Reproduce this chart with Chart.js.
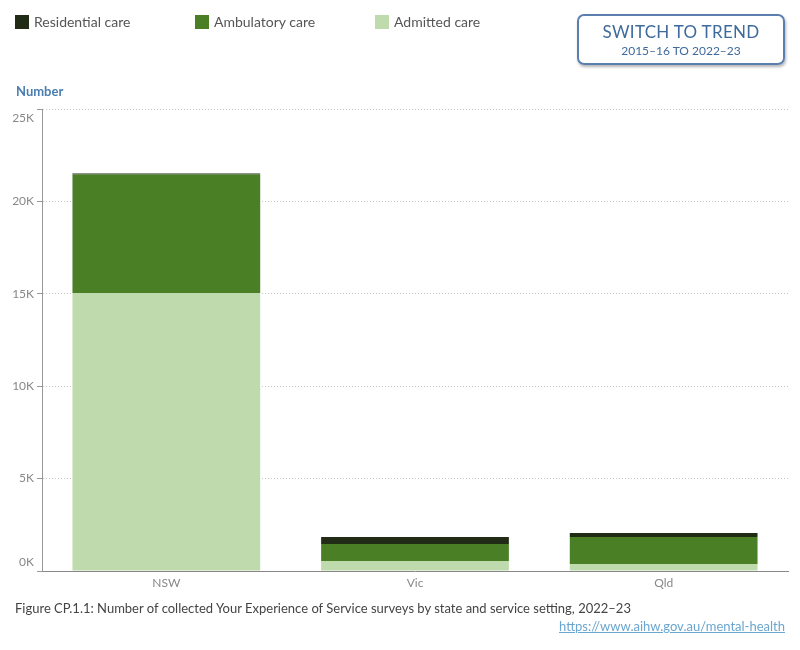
<html>
<head>
 <meta charset="utf-8" />
 <title>Your Experience of Service surveys</title>
 <script src="https://cdn.jsdelivr.net/npm/chart.js@4.4.1/dist/chart.umd.min.js"></script>
 <style>
  body { margin: 0; background: #fff; font-family: Lato, "Open Sans", sans-serif; }
  #wrap { position: relative; width: 800px; height: 650px; overflow: hidden; }
  #myChart { position: absolute; left: 0; top: 0; }
  .legend { position: absolute; top: 13px; font-size: 14px; color: #555; }
  .legend span.sw { display: inline-block; width: 14px; height: 14px; vertical-align: -2px; margin-right: 5px; }
  #btn { position: absolute; left: 577px; top: 14px; width: 204px; height: 47px; border: 2px solid #5a7fae;
         border-radius: 7px; box-shadow: 1px 2px 3px rgba(0,0,0,0.3); text-align: center; color: #3e6a9c; }
  #btn .t1 { font-size: 17px; margin-top: 5px; letter-spacing: 0.3px; }
  #btn .t2 { font-size: 12px; margin-top: 1px; }
  #ytitle { position: absolute; left: 16px; top: 83px; font-size: 13px; font-weight: bold; color: #4a7eb0; }
  #caption { position: absolute; left: 15px; top: 600px; font-size: 13px; color: #444; }
  #link { position: absolute; right: 15px; top: 618px; font-size: 13px; color: #6aa6cf; text-decoration: underline; }
 </style>
</head>
<body>
<div id="wrap">
 <canvas id="myChart" width="800" height="650"></canvas>
 <div id="legend"></div>
 <div id="btn"><div class="t1">SWITCH TO TREND</div><div class="t2">2015–16 TO 2022–23</div></div>
 <div id="ytitle">Number</div>
 <div id="caption">Figure CP.1.1: Number of collected Your Experience of Service surveys by state and service setting, 2022–23</div>
 <div id="link">https://www.aihw.gov.au/mental-health</div>
</div>

<script>
 // data
 var states = ["NSW", "Vic", "Qld"];
 var admitted = [15050, 540, 380];
 var ambulatory = [6400, 920, 1460];
 var residential = [60, 380, 215];
 var yTicks = [0, 5000, 10000, 15000, 20000, 25000];

 var colors = {
  "Residential care": "#212b15",
  "Ambulatory care": "#4b7f25",
  "Admitted care": "#bfdbad"
 };

 // legend
 var legendItems = [["Residential care", 15], ["Ambulatory care", 195], ["Admitted care", 375]];
 var legend = document.getElementById("legend");
 legendItems.forEach(function (it) {
  var d = document.createElement("div");
  d.className = "legend";
  d.style.left = it[1] + "px";
  d.innerHTML = '<span class="sw" style="background:' + colors[it[0]] + '"></span>' + it[0];
  legend.append(d);
 });

 var ctx = document.getElementById("myChart").getContext("2d");
 var chart = new Chart(ctx, {
  type: "bar",
  data: {
   labels: states,
   datasets: [
    { label: "Admitted care", data: admitted, backgroundColor: colors["Admitted care"] },
    { label: "Ambulatory care", data: ambulatory, backgroundColor: colors["Ambulatory care"] },
    { label: "Residential care", data: residential, backgroundColor: colors["Residential care"] }
   ]
  },
  options: {
   responsive: false,
   animation: false,
   layout: { padding: { top: 109, bottom: 49, right: 12, left: 0 } },
   datasets: { bar: { categoryPercentage: 0.755, barPercentage: 1 } },
   plugins: { legend: { display: false }, tooltip: { enabled: false } },
   scales: {
    x: {
     stacked: true,
     grid: { display: false, drawTicks: false },
     border: { color: "#888", width: 1 },
     ticks: { color: "#888", font: { family: "Lato", size: 12 }, padding: 5 },
     afterFit: function (s) { s.height = 30; }
    },
    y: {
     stacked: true,
     min: 0,
     max: 25000,
     afterBuildTicks: function (s) { s.ticks = yTicks.map(function (v) { return { value: v }; }); },
     afterFit: function (s) { s.width = 42; },
     border: { color: "#999", width: 1, dash: [1, 2] },
     grid: {
      color: function (c) { return c.tick && c.tick.value === 0 ? "rgba(0,0,0,0)" : "#c8c8c8"; },
      tickColor: "#999",
      tickLength: 5
     },
     ticks: {
      color: "#888",
      padding: 3,
      font: { family: "Lato", size: 12, lineHeight: 1.5 },
      // first and last labels sit inside the axis, like the original
      callback: function (v) {
       var t = (v / 1000) + "K";
       if (v === 25000) return ["", t];
       if (v === 0) return [t, ""];
       return t;
      }
     }
    }
   }
  }
 });
</script>
</body>
</html>
